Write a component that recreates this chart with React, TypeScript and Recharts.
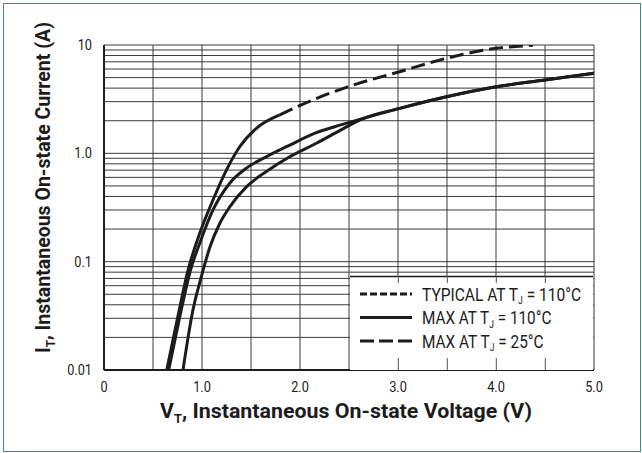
import { LineChart, Line, XAxis, YAxis, CartesianGrid, Legend, Label } from 'recharts';

// curve readings: voltage (V) and current (A)
const voltsA = [0.64, 0.75, 0.857, 0.977, 1.112, 1.249, 1.385, 1.555, 1.793];
const ampsA = [0.01, 0.03, 0.083, 0.183, 0.371, 0.7, 1.15, 1.7, 2.26];
const voltsADash = [1.793, 1.997, 2.473, 3.017, 3.494, 4.004, 4.378];
const ampsADash = [2.26, 2.76, 4.07, 5.67, 7.54, 9.33, 9.93];
const voltsB = [0.66, 0.77, 0.885, 0.977, 1.112, 1.283, 1.453, 1.657, 1.895, 2.167, 2.337, 2.609, 3.017, 3.494, 4.004, 4.497, 5.0];
const ampsB = [0.01, 0.03, 0.085, 0.148, 0.3, 0.53, 0.73, 0.93, 1.19, 1.55, 1.74, 2.06, 2.6, 3.33, 4.12, 4.75, 5.48];
const voltsC = [0.806, 0.908, 0.994, 1.079, 1.181, 1.283, 1.453, 1.657, 1.895, 2.167, 2.405, 2.609, 3.017, 3.494, 4.004, 4.497, 5.0];
const ampsC = [0.01, 0.036, 0.073, 0.135, 0.225, 0.32, 0.49, 0.68, 0.93, 1.24, 1.62, 2.03, 2.6, 3.33, 4.12, 4.75, 5.48];

const xTicks = [0, 0.5, 1, 1.5, 2, 2.5, 3, 3.5, 4, 4.5, 5];
const yTicks = [
  0.01, 0.02, 0.03, 0.04, 0.05, 0.06, 0.07, 0.08, 0.09,
  0.1, 0.2, 0.3, 0.4, 0.5, 0.6, 0.7, 0.8, 0.9,
  1, 2, 3, 4, 5, 6, 7, 8, 9, 10,
];
const yLabels: Record<string, string> = { '0.01': '0.01', '0.1': '0.1', '1': '1.0', '10': '10' };
const legendStubs = [3, 3.5, 4, 4.5];

const toPoints = (v: number[], a: number[]) => v.map((x, i) => ({ v: x, i: a[i] }));

const FONT = "Roboto, 'Liberation Sans', sans-serif";
const INK = '#1c1c1c';

const W = 642;
const H = 453;
const M = { top: 45, right: 48, bottom: 53, left: 0 };
const PLOT_W = W - 104 - M.right;

// measure text so a narrow look can be faked with a horizontal scale
let ctx: CanvasRenderingContext2D | null = null;
function textWidth(s: string, size: number) {
  if (!ctx) ctx = document.createElement('canvas').getContext('2d');
  if (!ctx) return s.length * size * 0.55;
  ctx.font = `${size}px Roboto`;
  return ctx.measureText(s).width;
}

// condensed tick text (the reference uses a narrow face)
function XTick({ x, y, payload }: any) {
  const v = payload.value as number;
  const s = v === 0 ? '0' : Number.isInteger(v) ? v.toFixed(1) : '';
  if (!s) return null;
  return (
    <text transform={`translate(${x} ${y + 14}) scale(0.85 1)`} textAnchor="middle" fontFamily={FONT} fontSize={15} fill={INK}>
      {s}
    </text>
  );
}

function YTick({ x, y, payload }: any) {
  const s = yLabels[String(payload.value)] ?? '';
  if (!s) return null;
  return (
    <text transform={`translate(${x} ${y + 5}) scale(0.85 1)`} textAnchor="end" fontFamily={FONT} fontSize={15} fill={INK}>
      {s}
    </text>
  );
}

function LegendBox() {
  const boxW = 243;
  const boxH = 94;
  const xOf = (v: number) => ((v - 2.5) / 5) * PLOT_W - 0.7;
  const rows = [
    { dash: '7 3', name: 'TYPICAL AT T', tail: ' = 110°C', len: 160 },
    { dash: undefined, name: 'MAX AT T', tail: ' = 110°C', len: 130 },
    { dash: '14 5', name: 'MAX AT T', tail: ' =  25°C', len: 126 },
  ];
  return (
    <svg width={boxW} height={boxH} style={{ display: 'block', overflow: 'visible' }}>
      <rect x={0} y={0} width={boxW} height={boxH} fill="#fff" />
      <line x1={0} x2={boxW} y1={0.5} y2={0.5} stroke={INK} strokeWidth={1.5} />
      {legendStubs.map((v) => (
        <g key={v}>
          <line x1={xOf(v)} x2={xOf(v)} y1={0} y2={7} stroke="#555" strokeWidth={1} />
          <line x1={xOf(v)} x2={xOf(v)} y1={boxH - 12} y2={boxH} stroke="#555" strokeWidth={1} />
        </g>
      ))}
      {rows.map((r, k) => {
        const y = 18 + k * 23.5;
        const natural = textWidth(r.name, 18) + textWidth('J', 10) + textWidth(r.tail, 18);
        const sx = r.len / natural;
        return (
          <g key={k}>
            <line x1={10} x2={62} y1={y} y2={y} stroke={INK} strokeWidth={3} strokeDasharray={r.dash} />
            <text
              transform={`translate(72 ${y + 6.5}) scale(${sx} 1)`}
              fontFamily={FONT}
              fontSize={18}
              fill={INK}
            >
              {r.name}
              <tspan fontSize={10} dy={3.5}>J</tspan>
              <tspan dy={-3.5}>{r.tail}</tspan>
            </text>
          </g>
        );
      })}
    </svg>
  );
}

export default function App() {
  const lineProps = {
    dataKey: 'i',
    stroke: INK,
    strokeWidth: 3,
    dot: false,
    activeDot: false,
    type: 'monotone' as const,
    isAnimationActive: false,
    legendType: 'none' as const,
  };

  return (
    <div style={{ position: 'absolute', left: 0, top: 0, width: W, height: H, background: '#fff' }}>
      <div
        style={{
          position: 'absolute',
          left: 3,
          top: 3,
          width: 636,
          height: 447,
          border: '1.5px solid #339470',
        }}
      />
      <LineChart width={W} height={H} margin={M}>
        <CartesianGrid stroke="#3a3a3a" strokeWidth={1} />
        <XAxis
          type="number"
          dataKey="v"
          domain={[0, 5]}
          ticks={xTicks}
          interval={0}
          height={30}
          tickLine={false}
          axisLine={{ stroke: INK, strokeWidth: 2 }}
          tick={<XTick />}
          allowDataOverflow
        >
          <Label
            content={() => (
              <text
                x={160}
                y={418}
                fontFamily={FONT}
                fontWeight="bold"
                fontSize={20}
                fill={INK}
                textLength={372}
                lengthAdjust="spacingAndGlyphs"
              >
                V<tspan fontSize={12} dy={5}>T</tspan>
                <tspan dy={-5}>, Instantaneous On-state Voltage (V)</tspan>
              </text>
            )}
          />
        </XAxis>
        <YAxis
          type="number"
          scale="log"
          domain={[0.01, 10]}
          ticks={yTicks}
          interval={0}
          width={104}
          tickLine={false}
          axisLine={{ stroke: INK, strokeWidth: 2 }}
          tick={<YTick />}
          tickMargin={6}
          allowDataOverflow
        >
          <Label
            content={() => (
              <text
                x={0}
                y={0}
                transform="translate(50 353) rotate(-90)"
                fontFamily={FONT}
                fontWeight="bold"
                fontSize={20}
                fill={INK}
                textLength={331}
                lengthAdjust="spacingAndGlyphs"
              >
                I<tspan fontSize={12} dy={5}>T</tspan>
                <tspan dy={-5}>, Instantaneous On-state Current (A)</tspan>
              </text>
            )}
          />
        </YAxis>
        <Legend
          layout="horizontal"
          verticalAlign="middle"
          align="center"
          wrapperStyle={{ left: 350, top: 276, width: 243, height: 94 }}
          content={() => <LegendBox />}
        />
        <Line {...lineProps} data={toPoints(voltsC, ampsC)} name="lower" />
        <Line {...lineProps} data={toPoints(voltsB, ampsB)} name="middle" />
        <Line {...lineProps} data={toPoints(voltsA, ampsA)} name="upper solid" />
        <Line {...lineProps} data={toPoints(voltsADash, ampsADash)} strokeDasharray="14 6" name="upper dashed" />
      </LineChart>
    </div>
  );
}
